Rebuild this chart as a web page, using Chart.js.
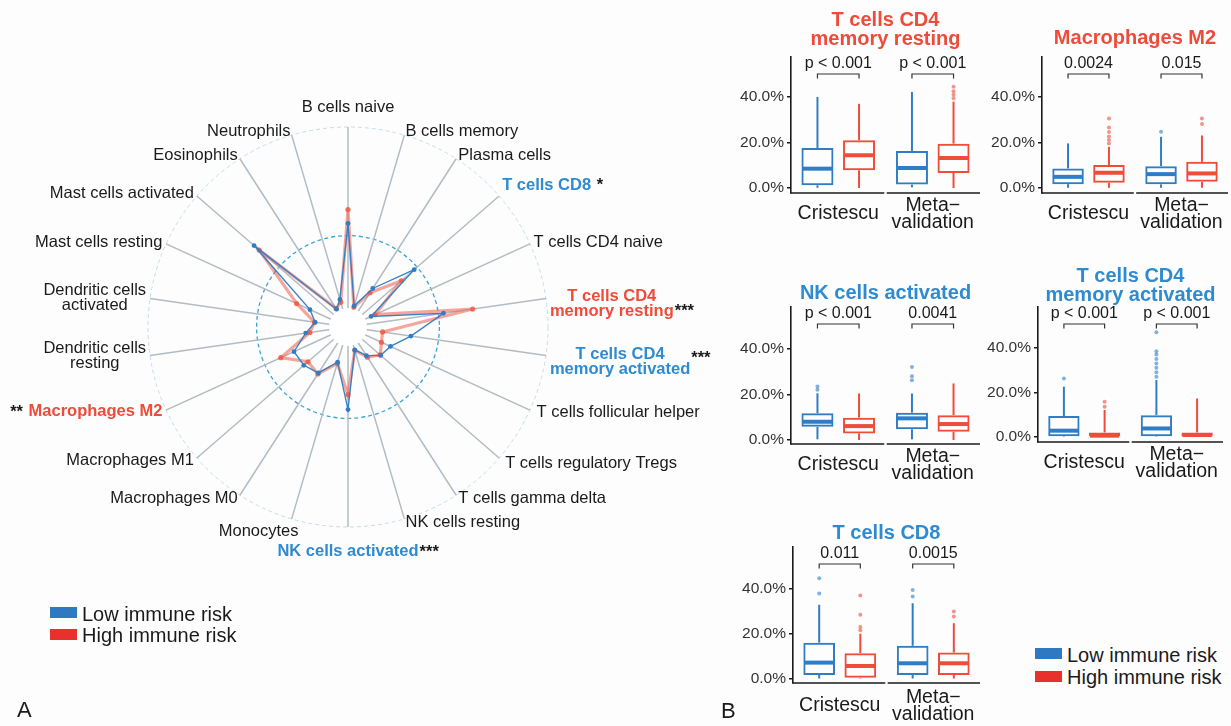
<!DOCTYPE html>
<html>
<head>
<meta charset="utf-8">
<script src="https://cdn.jsdelivr.net/npm/chart.js@4.4.1/dist/chart.umd.min.js"></script>
<style>
  body { margin: 0; background: #ffffff; }
  #fig { position: relative; width: 1231px; height: 726px; overflow: hidden; background: #fdfdfe;
         font-family: 'Liberation Sans', Arial, sans-serif; color: #1a1a1a; }
  #fig canvas { position: absolute; }
  .key { position: absolute; font-size: 20px; line-height: 20px; white-space: nowrap; }
  .sw { position: absolute; width: 27px; height: 11px; }
  .tag { position: absolute; font-size: 22px; line-height: 22px; }
</style>
</head>
<body>
<div id="fig">
  <canvas id="radar" width="720" height="726" style="left:0;top:0"></canvas>
  <canvas id="boxCd4Resting" width="257" height="240" style="left:725px;top:0"></canvas>
  <canvas id="boxM2" width="255" height="240" style="left:976px;top:0"></canvas>
  <canvas id="boxNkAct" width="257" height="240" style="left:725px;top:250px"></canvas>
  <canvas id="boxCd4Act" width="259" height="240" style="left:972px;top:250px"></canvas>
  <canvas id="boxCd8" width="255" height="236" style="left:727px;top:490px"></canvas>

  <div class="sw" style="left:50px;top:607px;background:#2F78C2"></div>
  <div class="key" style="left:82px;top:604px">Low immune risk</div>
  <div class="sw" style="left:50px;top:629px;background:#E8302C"></div>
  <div class="key" style="left:82px;top:625px">High immune risk</div>
  <div class="tag" style="left:17px;top:699px">A</div>

  <div class="sw" style="left:1035px;top:648px;background:#2F78C2"></div>
  <div class="key" style="left:1067px;top:645px">Low immune risk</div>
  <div class="sw" style="left:1035px;top:671px;background:#E8302C"></div>
  <div class="key" style="left:1067px;top:667px">High immune risk</div>
  <div class="tag" style="left:721px;top:700px">B</div>
</div>

<script>
// ---------- colours & fonts ----------
const LOW = '#2F7EC5';
const HIGH = '#EF4C3A';
const LOW_TXT = '#2E8BD1';
const HIGH_TXT = '#EE4B3B';
const FAMILY = "'Liberation Sans', Arial, sans-serif";
Chart.defaults.font.family = FAMILY;

// ---------- radar: mean relative abundance score per cell type ----------
const cellTypes = [
  ['B cells naive'], ['B cells memory'], ['Plasma cells'], ['T cells CD8'],
  ['T cells CD4 naive'], ['T cells CD4', 'memory resting'], ['T cells CD4', 'memory activated'],
  ['T cells follicular helper'], ['T cells regulatory Tregs'], ['T cells gamma delta'],
  ['NK cells resting'], ['NK cells activated'], ['Monocytes'], ['Macrophages M0'],
  ['Macrophages M1'], ['Macrophages M2'], ['Dendritic cells', 'resting'],
  ['Dendritic cells', 'activated'], ['Mast cells resting'], ['Mast cells activated'],
  ['Eosinophils'], ['Neutrophils']
];
const lowRiskScore  = [46.7, 1.6, 14.8, 37.9, 3.5, 42.8, 24.6, 15.3, 13.4, 8.3, 2.7,
                       35.1, 9.8, 19.7, 21.8, 22.3, 13.1, 7.8, 12.6, 58.2, 1.2, 5.4];
const highRiskScore = [54.4, 1.0, 12.0, 28.5, 5.9, 59.1, 8.8, 9.8, 13.1, 9.3, 2.9,
                       26.9, 10.4, 20.3, 18.8, 30.3, 10.8, 8.2, 20.7, 54.4, 1.6, 3.8];
const radarRings = [-10.5, 40, 100];

// label emphasis (significant cell types) and small placement tweaks
const emphasis = {
  'T cells CD8': { color: LOW_TXT, after: ' *', astDy: 0 },
  'T cells CD4 memory resting': { color: HIGH_TXT, after: '***', astDy: 7 },
  'T cells CD4 memory activated': { color: LOW_TXT, after: '***', astDy: -4 },
  'NK cells activated': { color: LOW_TXT, after: '***', astDy: 1 },
  'Macrophages M2': { color: HIGH_TXT, before: '** ', astDy: 1 }
};
const labelNudge = {
  'T cells CD8': [0, -8],
  'T cells CD4 memory resting': [0, 6],
  'T cells CD4 memory activated': [0, 6],
  'T cells follicular helper': [3, 1],
  'T cells regulatory Tregs': [3, 3],
  'Monocytes': [8, 9]
};

const spokeLabels = {
  id: 'spokeLabels',
  beforeDatasetsDraw(chart) {
    // blank the hub so spokes start at the zero ring
    const r = chart.scales.r, ctx = chart.ctx;
    ctx.save();
    ctx.fillStyle = '#ffffff';
    ctx.beginPath();
    ctx.arc(r.xCenter, r.yCenter, r.getDistanceFromCenterForValue(0), 0, Math.PI * 2);
    ctx.fill();
    ctx.restore();
  },
  afterDraw(chart) {
    const r = chart.scales.r, ctx = chart.ctx;
    const n = chart.data.labels.length;
    const lh = 15;
    ctx.save();
    chart.data.labels.forEach((lines, i) => {
      const key = lines.join(' ');
      const em = emphasis[key];
      const nudge = labelNudge[key] || [0, 0];
      const p = r.getPointPosition(i, r.drawingArea + 4);
      const ang = i / n * Math.PI * 2;
      const s = Math.sin(ang), c = Math.cos(ang);
      ctx.font = (em ? 'bold ' : '') + '16.5px ' + FAMILY;
      const w = Math.max(...lines.map(t => ctx.measureText(t).width));
      const h = lines.length * lh;
      let left, cy = p.y + nudge[1];
      if (Math.abs(s) < 0.05) { left = p.x - w / 2; cy += c > 0 ? -16 : 20; }
      else if (s > 0) left = p.x;
      else left = p.x - w;
      left += nudge[0];
      ctx.fillStyle = em ? em.color : '#1a1a1a';
      ctx.textAlign = 'center';
      ctx.textBaseline = 'middle';
      lines.forEach((t, k) => ctx.fillText(t, left + w / 2, cy - h / 2 + lh / 2 + k * lh));
      if (em) {
        ctx.font = 'bold 16.5px ' + FAMILY;
        ctx.fillStyle = '#1a1a1a';
        if (em.after) { ctx.textAlign = 'left'; ctx.fillText(em.after, left + w + 1, cy + em.astDy); }
        if (em.before) { ctx.textAlign = 'right'; ctx.fillText(em.before, left - 1, cy + em.astDy); }
      }
    });
    ctx.restore();
  }
};

new Chart(document.getElementById('radar'), {
  type: 'radar',
  data: {
    labels: cellTypes,
    datasets: [
      { label: 'Low immune risk', data: lowRiskScore, order: 0,
        borderColor: 'rgba(46,125,196,0.95)', borderWidth: 1.4,
        pointBackgroundColor: LOW, pointBorderColor: LOW, pointRadius: 2.4, pointBorderWidth: 0, fill: false },
      { label: 'High immune risk', data: highRiskScore, order: 1,
        borderColor: 'rgba(239,95,75,0.55)', borderWidth: 3.2,
        pointBackgroundColor: 'rgba(239,90,70,0.85)', pointBorderColor: 'rgba(239,90,70,0.85)', pointRadius: 2.6, pointBorderWidth: 0, fill: false }
    ]
  },
  options: {
    responsive: false, animation: false, devicePixelRatio: 1,
    layout: { padding: { left: 148, right: 172, top: 127, bottom: 199 } },
    elements: { line: { tension: 0 } },
    plugins: { legend: { display: false }, tooltip: { enabled: false } },
    scales: {
      r: {
        min: -10.5, max: 100,
        afterBuildTicks: s => { s.ticks = radarRings.map(v => ({ value: v })); },
        ticks: { display: false },
        pointLabels: { display: false },
        angleLines: { color: '#B3BCC2', lineWidth: 1.5 },
        grid: {
          circular: true,
          color: c => c.tick && c.tick.value === 40 ? '#3AA5D5' : (c.tick && c.tick.value === 100 ? '#C3DDEA' : 'rgba(0,0,0,0)'),
          lineWidth: c => c.tick && c.tick.value === 40 ? 1.3 : 1
        },
        border: { dash: [4, 3] }
      }
    }
  },
  plugins: [spokeLabels]
});

// ---------- box plots: [min, Q1, median, Q3, max] in %, per cohort ----------
const cohorts = ['Cristescu', ['Meta\u2212', 'validation']];
const yTicks = [0, 20, 40];

const cd4RestingLow  = [[0.1, 1.2, 8.5, 17.6, 40.0], [0.3, 1.5, 8.8, 16.3, 42.2]];
const cd4RestingHigh = [[0.0, 7.8, 14.4, 21.0, 37.0], [0.0, 6.6, 13.2, 19.5, 38.0]];
const cd4RestingLowOut  = [[], []];
const cd4RestingHighOut = [[], [39.5, 41.0, 42.5, 44.5]];
const cd4RestingP = ['p < 0.001', 'p < 0.001'];

const m2Low  = [[0.0, 1.6, 4.8, 8.5, 19.5], [0.0, 1.5, 6.0, 9.5, 22.4]];
const m2High = [[0.0, 2.2, 6.6, 10.0, 18.0], [0.0, 2.6, 6.3, 11.4, 23.0]];
const m2LowOut  = [[], [24.6]];
const m2HighOut = [[19.5, 21.0, 22.5, 24.5, 26.5, 30.5], [28.0, 30.5]];
const m2P = ['0.0024', '0.015'];

const nkActLow  = [[0.3, 5.8, 8.0, 11.7, 20.5], [0.3, 4.7, 9.5, 12.0, 20.4]];
const nkActHigh = [[0.0, 2.9, 6.1, 9.8, 20.4], [0.0, 3.6, 7.0, 10.9, 24.8]];
const nkActLowOut  = [[22.0, 23.5], [26.2, 28.0, 32.0]];
const nkActHighOut = [[], []];
const nkActP = ['p < 0.001', '0.0041'];

const cd4ActLow  = [[0.0, 0.2, 2.7, 9.3, 22.5], [0.0, 0.2, 3.7, 9.7, 25.5]];
const cd4ActHigh = [[0.0, 0.0, 0.45, 1.9, 12.0], [0.0, 0.0, 0.75, 1.9, 17.2]];
const cd4ActLowOut  = [[26.2], [27.0, 29.0, 31.0, 33.0, 35.0, 37.0, 38.5, 47.0]];
const cd4ActHighOut = [[13.5, 15.7], []];
const cd4ActP = ['p < 0.001', 'p < 0.001'];

const cd8Low  = [[0.0, 1.6, 7.1, 16.0, 32.9], [0.0, 1.6, 6.8, 14.6, 33.6]];
const cd8High = [[0.0, 0.3, 5.6, 11.3, 20.0], [0.0, 1.6, 6.8, 11.6, 24.7]];
const cd8LowOut  = [[38.0, 44.8], [36.6, 39.5]];
const cd8HighOut = [[21.5, 23.0, 28.5, 37.0], [27.7, 29.9]];
const cd8P = ['0.011', '0.0015'];

function seg(ctx, x1, y1, x2, y2) {
  ctx.beginPath(); ctx.moveTo(x1, y1); ctx.lineTo(x2, y2); ctx.stroke();
}

const boxParts = {
  id: 'boxParts',
  afterDatasetsDraw(chart) {
    const ctx = chart.ctx, y = chart.scales.y;
    chart.data.datasets.forEach((ds, di) => {
      chart.getDatasetMeta(di).data.forEach((bar, i) => {
        const [lo, q1, med, q3, hi] = ds.stats[i];
        const half = bar.width / 2;
        ctx.save();
        ctx.strokeStyle = ds.borderColor;
        ctx.lineWidth = 2;
        seg(ctx, bar.x, y.getPixelForValue(q3), bar.x, y.getPixelForValue(hi));
        seg(ctx, bar.x, y.getPixelForValue(q1), bar.x, y.getPixelForValue(lo));
        ctx.lineWidth = 4;
        const ym = y.getPixelForValue(med);
        seg(ctx, bar.x - half + 1, ym, bar.x + half - 1, ym);
        ctx.fillStyle = ds.borderColor;
        ctx.globalAlpha = 0.6;
        ds.outliers[i].forEach(v => {
          ctx.beginPath(); ctx.arc(bar.x, y.getPixelForValue(v), 2, 0, Math.PI * 2); ctx.fill();
        });
        ctx.restore();
      });
    });
  },
  afterDraw(chart, args, opts) {
    const ctx = chart.ctx, a = chart.chartArea, x = chart.scales.x;
    const cw = (a.right - a.left) / 2;
    ctx.save();
    // split baseline, one segment per cohort
    ctx.strokeStyle = '#1a1a1a';
    ctx.lineWidth = 1.6;
    seg(ctx, a.left - 0.8, a.bottom, a.left + cw - 1.2, a.bottom);
    seg(ctx, a.left + cw + 1.2, a.bottom, a.right, a.bottom);
    // cohort labels under each segment
    ctx.fillStyle = '#1a1a1a';
    ctx.font = '19.5px ' + FAMILY;
    ctx.textAlign = 'center';
    ctx.textBaseline = 'middle';
    chart.data.labels.forEach((lab, i) => {
      const lines = Array.isArray(lab) ? lab : [lab];
      const cx = x.getPixelForValue(i);
      const cy = a.bottom + opts.stripDy;
      lines.forEach((t, k) => ctx.fillText(t, cx, cy + (k - (lines.length - 1) / 2) * 17));
    });
    // comparison brackets and p-values
    const m0 = chart.getDatasetMeta(0).data, m1 = chart.getDatasetMeta(1).data;
    ctx.lineWidth = 1.2;
    ctx.strokeStyle = '#333333';
    ctx.font = '16px ' + FAMILY;
    opts.pvals.forEach((t, i) => {
      const x1 = m0[i].x, x2 = m1[i].x, yb = a.top + 17;
      ctx.beginPath();
      ctx.moveTo(x1, yb + 4.5); ctx.lineTo(x1, yb); ctx.lineTo(x2, yb); ctx.lineTo(x2, yb + 4.5);
      ctx.stroke();
      ctx.fillText(t, (x1 + x2) / 2, a.top + 7);
    });
    // panel title
    ctx.font = 'bold 20px ' + FAMILY;
    ctx.fillStyle = opts.titleColor;
    const tc = (a.left + a.right) / 2;
    const nT = opts.title.length;
    opts.title.forEach((t, k) => ctx.fillText(t, tc, a.top + opts.titleDy - (nT - 1 - k) * 19));
    ctx.restore();
  }
};

function boxPanel(id, low, high, lowOut, highOut, pvals, title, titleColor, titleDy, pad, yRange, stripDy) {
  new Chart(document.getElementById(id), {
    type: 'bar',
    data: {
      labels: cohorts,
      datasets: [
        { label: 'Low immune risk', data: low.map(s => [s[1], s[3]]), stats: low, outliers: lowOut,
          borderColor: LOW, backgroundColor: 'rgba(0,0,0,0)', borderWidth: 2, borderSkipped: false,
          categoryPercentage: 0.88, barPercentage: 0.77 },
        { label: 'High immune risk', data: high.map(s => [s[1], s[3]]), stats: high, outliers: highOut,
          borderColor: HIGH, backgroundColor: 'rgba(0,0,0,0)', borderWidth: 2, borderSkipped: false,
          categoryPercentage: 0.88, barPercentage: 0.77 }
      ]
    },
    options: {
      responsive: false, animation: false, devicePixelRatio: 1,
      layout: { padding: { left: 0, top: pad.top, right: pad.right, bottom: pad.bottom } },
      plugins: {
        legend: { display: false }, tooltip: { enabled: false },
        boxParts: { pvals, title, titleColor, titleDy, stripDy }
      },
      scales: {
        x: { display: false },
        y: {
          min: yRange[0], max: yRange[1],
          afterBuildTicks: s => { s.ticks = yTicks.map(v => ({ value: v })); },
          afterFit: s => { s.width = 66; },
          ticks: { callback: v => v.toFixed(1) + '%', color: '#333333', padding: 3,
                   font: { size: 15.5, family: FAMILY } },
          grid: { drawOnChartArea: false, drawTicks: true, tickLength: 4, color: '#1a1a1a', lineWidth: 1.5 },
          border: { display: true, color: '#1a1a1a', width: 1.6 }
        }
      }
    },
    plugins: [boxParts]
  });
}

boxPanel('boxCd4Resting', cd4RestingLow, cd4RestingHigh, cd4RestingLowOut, cd4RestingHighOut, cd4RestingP,
  ['T cells CD4', 'memory resting'], HIGH_TXT, -18, { top: 57, right: 2, bottom: 47 }, [-2.2, 57.6], 21);
boxPanel('boxM2', m2Low, m2High, m2LowOut, m2HighOut, m2P,
  ['Macrophages M2'], HIGH_TXT, -19, { top: 57, right: 3, bottom: 47 }, [-2.3, 57.5], 21);
boxPanel('boxNkAct', nkActLow, nkActHigh, nkActLowOut, nkActHighOut, nkActP,
  ['NK cells activated'], LOW_TXT, -14, { top: 57, right: 2, bottom: 46 }, [-1.75, 58.3], 21);
boxPanel('boxCd4Act', cd4ActLow, cd4ActHigh, cd4ActLowOut, cd4ActHighOut, cd4ActP,
  ['T cells CD4', 'memory activated'], LOW_TXT, -12, { top: 57, right: 8, bottom: 48 }, [-2.4, 58.4], 21);
boxPanel('boxCd8', cd8Low, cd8High, cd8LowOut, cd8HighOut, cd8P,
  ['T cells CD8'], LOW_TXT, -14, { top: 57, right: 2, bottom: 43 }, [-2.0, 58.7], 23);
</script>
</body>
</html>
